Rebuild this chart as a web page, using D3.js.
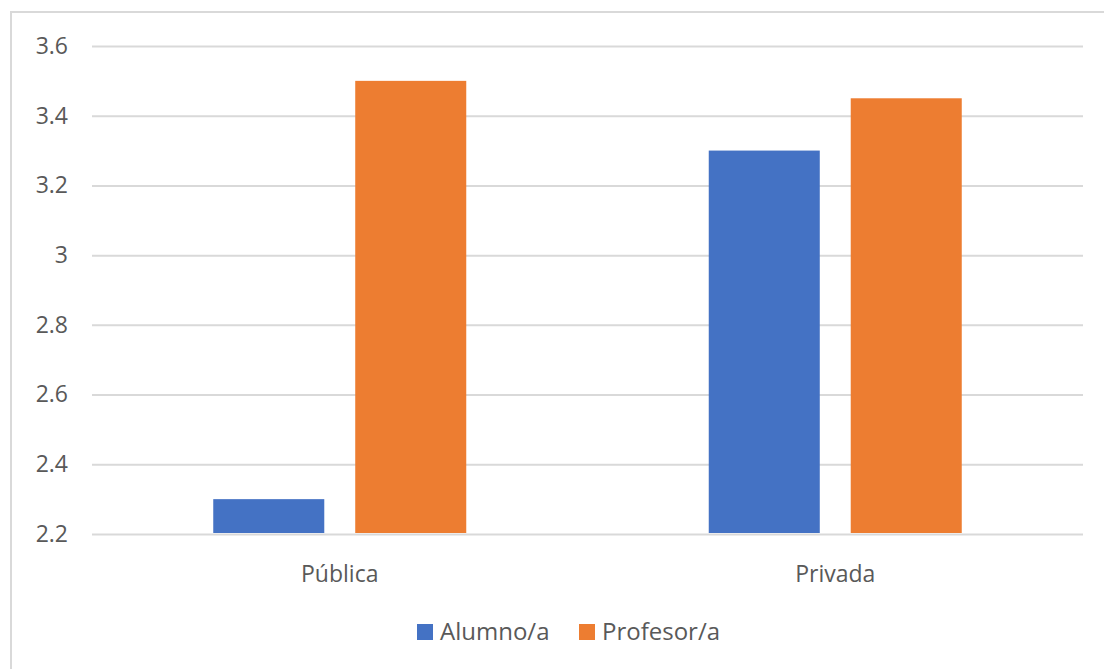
<!DOCTYPE html>
<html>
<head>
<meta charset="utf-8">
<script src="https://cdn.jsdelivr.net/npm/d3@7"></script>
<style>
  html, body { margin: 0; padding: 0; background: #fff; }
  svg { display: block; }
  text { font-family: "Open Sans", "Noto Sans", sans-serif; fill: #595959; }
</style>
</head>
<body>
<svg id="chart" width="1104" height="669"></svg>
<script>
const categories = ["Pública", "Privada"];
const seriesNames = ["Alumno/a", "Profesor/a"];
const alumnoValues = [2.3, 3.3];
const profesorValues = [3.5, 3.45];
const yTicks = [2.2, 2.4, 2.6, 2.8, 3, 3.2, 3.4, 3.6];
const colors = ["#4472C4", "#ED7D31"];

const seriesValues = [alumnoValues, profesorValues];

const svg = d3.select("#chart");

// outer chart border (extends past viewport on right/bottom)
svg.append("rect")
  .attr("x", 11).attr("y", 12)
  .attr("width", 1200).attr("height", 800)
  .attr("fill", "none").attr("stroke", "#d9d9d9").attr("stroke-width", 2);

const plotLeft = 92, plotRight = 1083, plotTop = 46, plotBottom = 534;

const y = d3.scaleLinear().domain([2.2, 3.6]).range([plotBottom, plotTop]);
const x0 = d3.scaleBand().domain(categories).range([plotLeft, plotRight]).padding(0);
const groupHalf = 126.5;
const x1 = d3.scaleBand().domain(seriesNames)
  .range([x0.bandwidth() / 2 - groupHalf, x0.bandwidth() / 2 + groupHalf])
  .paddingInner(0.218).paddingOuter(0);

// gridlines + y labels
const yAxis = d3.axisLeft(y).tickValues(yTicks).tickSize(-(plotRight - plotLeft)).tickPadding(24)
  .tickFormat(d => String(d));
const gy = svg.append("g").attr("transform", `translate(${plotLeft},0)`).call(yAxis);
gy.select(".domain").remove();
gy.selectAll(".tick line").attr("stroke", "#d9d9d9").attr("stroke-width", 2);
gy.selectAll(".tick text").style("font-size", "23px").attr("fill", "#595959");

// bars
const groups = svg.append("g").selectAll("g")
  .data(categories)
  .join("g")
  .attr("transform", d => `translate(${x0(d)},0)`);

groups.selectAll("rect")
  .data((c, i) => seriesNames.map((s, j) => ({ s, v: seriesValues[j][i], j })))
  .join("rect")
  .attr("x", d => x1(d.s))
  .attr("width", x1.bandwidth())
  .attr("y", d => y(d.v))
  .attr("height", d => y(2.2) - y(d.v) - 1)
  .attr("fill", d => colors[d.j]);

// category axis labels
const xAxis = d3.axisBottom(x0).tickSize(0).tickPadding(32);
const gx = svg.append("g").attr("transform", `translate(0,${plotBottom})`).call(xAxis);
gx.select(".domain").remove();
gx.selectAll(".tick text").style("font-size", "23px").attr("fill", "#595959");

// legend
const legendItems = [
  { name: seriesNames[0], color: colors[0], x: 417 },
  { name: seriesNames[1], color: colors[1], x: 579 }
];
const lg = svg.append("g");
legendItems.forEach(it => {
  lg.append("rect").attr("x", it.x).attr("y", 624).attr("width", 16).attr("height", 16).attr("fill", it.color);
  lg.append("text").attr("x", it.x + 23).attr("y", 640).style("font-size", "24px").text(it.name);
});
</script>
</body>
</html>
